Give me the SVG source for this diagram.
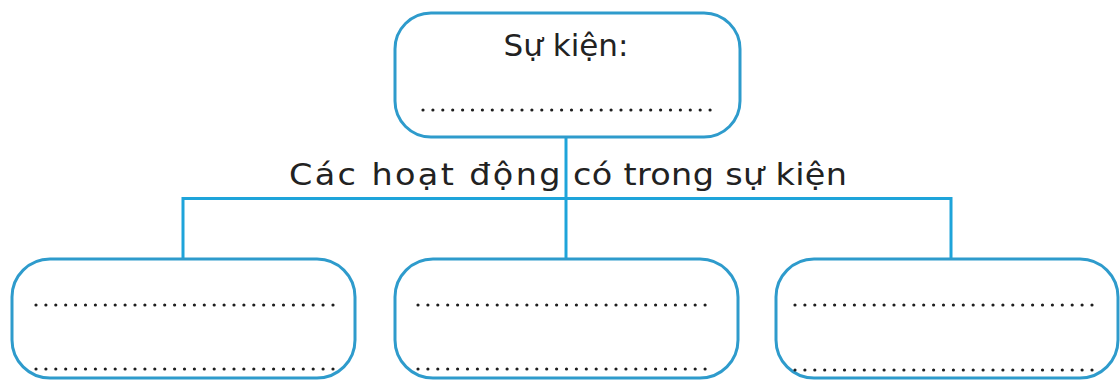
<svg xmlns="http://www.w3.org/2000/svg" width="1120" height="380" viewBox="0 0 1120 380">
<style>
.box{fill:#ffffff;stroke:#2e9bcc;stroke-width:3}
.conn{fill:none;stroke:#1ea4da;stroke-width:3}
.dots{fill:none;stroke:#1e1e1e;stroke-width:3.2;stroke-linecap:round;stroke-dasharray:0 9.9}
.lbl{font-family:"DejaVu Sans","Liberation Sans",sans-serif;font-size:31px;fill:#222222}
</style>
<rect width="1120" height="380" fill="#ffffff"/>
<g id="connectors">
<path class="conn" d="M566 137 V259"/>
<path class="conn" d="M183 259 V198.5 H951 V259"/>
</g>
<g id="event">
<rect class="box" x="395" y="13" width="345" height="124" rx="36" ry="36"/>
<text class="lbl" x="566" y="56" text-anchor="middle">Sự kiện:</text>
<path class="dots" d="M423 110 H713"/>
</g>
<g id="activities-label">
<text class="lbl" y="185" transform="scale(1.08,1)"><tspan x="267.6" letter-spacing="2.2">Các hoạt động</tspan> <tspan x="530.6" letter-spacing="0.3">có trong sự kiện</tspan></text>
</g>
<g id="activity1">
<rect class="box" x="12" y="259" width="343" height="119" rx="38" ry="38"/>
<path class="dots" d="M36 305 H333"/>
<path class="dots" d="M36 369 H333"/>
</g>
<g id="activity2">
<rect class="box" x="395" y="259" width="343" height="119" rx="38" ry="38"/>
<path class="dots" d="M418 305 H715"/>
<path class="dots" d="M418 369 H715"/>
</g>
<g id="activity3">
<rect class="box" x="776" y="259" width="342" height="119" rx="38" ry="38"/>
<path class="dots" d="M795 305 H1092"/>
<path class="dots" d="M795 370 H1092"/>
</g>
</svg>
